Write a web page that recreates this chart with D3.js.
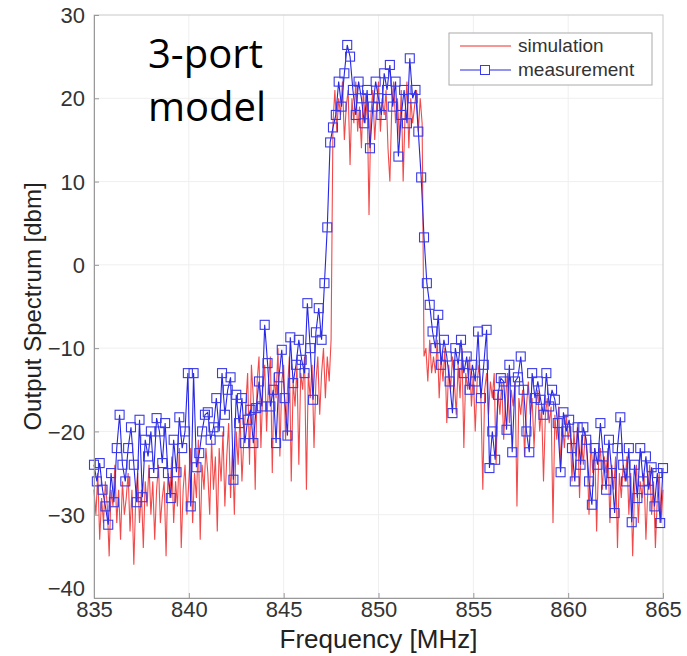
<!DOCTYPE html>
<html>
<head>
<meta charset="utf-8">
<script src="https://cdnjs.cloudflare.com/ajax/libs/d3/7.8.5/d3.min.js"></script>
<style>
    body { margin: 0; background: #fff; }
    text { font-family: "Liberation Sans", Arial, sans-serif; }
</style>
</head>
<body>
<div id="graph1"></div>
<script>

// frequency grid [MHz]
let fStart = 835,
    simStep = 0.1,
    measStep = 0.15;

let xTicks = [835, 840, 845, 850, 855, 860, 865];
let yTicks = [-40, -30, -20, -10, 0, 10, 20, 30];

// simulated output spectrum [dBm], one value every 0.1 MHz from 835
let simulation = [
    -27, -30, -25, -33, -28, -31, -26, -29, -35, -27,
    -29, -24, -31, -27, -33, -26, -30, -28, -25, -32,
    -27, -36, -28, -25, -31, -27, -34, -26, -29, -24,
    -30, -26, -33, -27, -24, -31, -28, -26, -35, -25,
    -28, -23, -31, -26, -29, -22, -34, -27, -24, -30,
    -26, -22, -31, -25, -28, -21, -33, -24, -27, -22,
    -25, -30, -21, -27, -23, -32, -22, -26, -20, -29,
    -23, -19, -28, -22, -30, -20, -24, -18, -26, -21,
    -17, -13, -24, -12, -16, -27, -14, -11, -22, -15,
    -12, -20, -14, -11, -25, -13, -16, -10, -23, -14,
    -12, -21, -15, -11, -26, -14, -17, -12, -24, -13,
    -15, -11, -27, -13, -16, -12, -22, -14, -11, -18,
    -13, -10, -16, -11, -14, -9, 17, 21, 16, 20,
    18, 22, 15, 19, 21, 12, 20, 17, 22, 16,
    19, 14, 21, 17, 20, 6, 18, 21, 15, 19,
    22, 16, 20, 18, 21, 14, 10, 19, 22, 17,
    20, 15, 21, 10, 18, 22, 14, 20, 17, 19,
    21, 16, 20, 17, -11, -10, -14, -9, -13, -11,
    -13, -9, -16, -11, -14, -10, -19, -12, -15, -11,
    -14, -18, -12, -16, -10, -22, -13, -15, -11, -17,
    -13, -20, -14, -12, -16, -27, -15, -13, -18, -14,
    -16, -13, -24, -15, -18, -14, -21, -16, -13, -19,
    -15, -17, -14, -29, -16, -18, -15, -23, -17, -14,
    -18, -16, -22, -17, -15, -20, -17, -26, -18, -16,
    -19, -17, -31, -18, -21, -17, -24, -19, -22, -18,
    -21, -19, -26, -20, -23, -19, -28, -21, -24, -20,
    -23, -30, -21, -25, -22, -32, -24, -22, -27, -23,
    -25, -22, -31, -24, -27, -23, -34, -25, -28, -24,
    -26, -23, -30, -25, -35, -27, -24, -31, -26, -28,
    -25, -33, -27, -24, -30, -26, -34, -28, -25, -31,
    -27
];

// measured output spectrum [dBm], one value every 0.15 MHz from 835
let measurement = [
    -24, -26, -23.8, -27, -29, -31.2, -25, -28.5, -22, -18,
    -24, -26, -22, -19.5, -24, -28.5, -18.6, -27.9, -21, -23,
    -20, -25, -18.4, -20, -23.8, -19, -25, -28, -21, -24.9,
    -18.3, -22, -20, -13, -29, -13, -24.3, -22.6, -20, -18,
    -17.7, -21, -19.5, -16, -20, -13, -18, -15, -13.5, -25.8,
    -15.6, -19, -16, -21.4, -18.6, -17.4, -21.4, -17.2, -14, -17,
    -7.2, -11.8, -17, -15, -21.4, -13.5, -10.2, -16, -20.5, -8.7,
    -14.2, -12, -9, -11.4, -13, -4.6, -10, -16.2, -8.1, -5.2,
    -9, -2.2, 4.5, 14.7, 16.5, 18, 22, 19, 23, 26.4,
    25, 21, 18, 22, 20, 17, 21, 14, 19, 22,
    20, 18, 23, 21, 24, 19, 22, 13, 18, 21,
    17, 24.8, 20, 21, 16, 10.5, 3.3, -2.2, -4.8, -8,
    -10, -6, -12, -9, -11, -14, -17.8, -10, -12, -9,
    -13, -11, -15, -12, -14, -8, -16, -12, -7.8, -24.4,
    -20, -23.4, -15.6, -13.6, -14, -19.8, -12, -22.5, -14, -13.5,
    -11, -15, -20, -22.5, -13, -16, -14, -16.2, -18, -13,
    -17, -15, -16.2, -19, -24.9, -17.7, -20, -18.6, -22, -26,
    -19.5, -24, -19.5, -21, -26, -28.8, -22, -24, -19, -23,
    -27, -21, -25, -29.8, -22, -18.3, -24, -26, -22, -30.9,
    -24, -28, -22, -26, -23, -27, -24.3, -29, -25, -31,
    -24.4
];

let width = 687,
    height = 656;

let margin = { top: 15, right: 24, bottom: 58, left: 94 };

let svg = d3.select("#graph1")
    .append("svg")
    .attr("width", width)
    .attr("height", height)
    .append("g")
    .attr("transform", `translate(${margin.left}, ${margin.top})`);

let plotW = width - margin.left - margin.right,
    plotH = height - margin.top - margin.bottom;

let x = d3.scaleLinear()
    .domain([835, 865])
    .range([0, plotW]);

let y = d3.scaleLinear()
    .domain([-40, 30])
    .range([plotH, 0]);

// light grid
svg.append("g")
    .selectAll("line")
    .data(xTicks.slice(1, -1))
    .enter()
    .append("line")
    .attr("x1", d => x(d)).attr("x2", d => x(d))
    .attr("y1", 0).attr("y2", plotH)
    .attr("stroke", "#efefef");

svg.append("g")
    .selectAll("line")
    .data(yTicks.slice(1, -1))
    .enter()
    .append("line")
    .attr("x1", 0).attr("x2", plotW)
    .attr("y1", d => y(d)).attr("y2", d => y(d))
    .attr("stroke", "#efefef");

// box
svg.append("rect")
    .attr("width", plotW)
    .attr("height", plotH)
    .attr("fill", "none")
    .attr("stroke", "#c8c8c8");

let simData = simulation.map((v, i) => ({ f: fStart + i * simStep, v: v }));
let measData = measurement.map((v, i) => ({ f: fStart + i * measStep, v: v }));

let line = d3.line()
    .x(d => x(d.f))
    .y(d => y(d.v));

svg.append("path")
    .datum(simData)
    .attr("fill", "none")
    .attr("stroke", "#f02a2a")
    .attr("stroke-opacity", 0.85)
    .attr("stroke-width", 1.1)
    .attr("d", line);

svg.append("path")
    .datum(measData)
    .attr("fill", "none")
    .attr("stroke", "#2626e6")
    .attr("stroke-width", 1.1)
    .attr("d", line);

let ms = 9;
svg.append("g")
    .selectAll("rect")
    .data(measData)
    .enter()
    .append("rect")
    .attr("x", d => x(d.f) - ms / 2)
    .attr("y", d => y(d.v) - ms / 2)
    .attr("width", ms)
    .attr("height", ms)
    .attr("fill", "none")
    .attr("stroke", "#3a3ae8")
    .attr("stroke-width", 1.1);

// axes
let xAxis = svg.append("g")
    .attr("transform", `translate(0, ${plotH})`)
    .call(d3.axisBottom(x).tickValues(xTicks).tickSize(-5).tickPadding(4).tickFormat(d3.format("d")));

let yAxis = svg.append("g")
    .call(d3.axisLeft(y).tickValues(yTicks).tickSize(-5).tickPadding(9).tickFormat(d3.format("d")));

[xAxis, yAxis].forEach(function (a) {
    a.select(".domain").attr("stroke", "#999");
    a.selectAll(".tick line").attr("stroke", "#999");
    a.selectAll("text")
        .style("font-family", "'Liberation Sans', Arial, sans-serif")
        .style("font-size", "22px")
        .attr("fill", "#333");
});

xAxis.selectAll("text").attr("dy", "0.7em");
// the bottom label sits a little higher so it clears the 835 below it
yAxis.selectAll("text").attr("dy", d => d === -40 ? "-0.1em" : "0.35em");

// axis labels
svg.append("text")
    .attr("transform", `translate(${plotW / 2}, ${plotH + 50})`)
    .style("text-anchor", "middle")
    .style("font-size", "26px")
    .attr("fill", "#222")
    .text("Frequency [MHz]");

svg.append("text")
    .attr("transform", `translate(${-margin.left + 41}, ${plotH / 2}) rotate(-90)`)
    .style("text-anchor", "middle")
    .style("font-size", "24px")
    .attr("fill", "#222")
    .text("Output Spectrum [dbm]");

// annotation
let note = svg.append("text")
    .style("font-family", "'Open Sans', sans-serif")
    .style("font-size", "40px")
    .attr("fill", "#000");
note.append("tspan").attr("x", 54).attr("y", 53).text("3-port");
note.append("tspan").attr("x", 54).attr("y", 106).text("model");

// legend
let legend = svg.append("g")
    .attr("transform", `translate(${449 - margin.left}, ${33 - margin.top})`);

legend.append("rect")
    .attr("width", 203)
    .attr("height", 52)
    .attr("fill", "#fff")
    .attr("stroke", "#aaa");

legend.append("line")
    .attr("x1", 11).attr("x2", 62)
    .attr("y1", 13).attr("y2", 13)
    .attr("stroke", "#f02a2a");

legend.append("line")
    .attr("x1", 11).attr("x2", 62)
    .attr("y1", 37).attr("y2", 37)
    .attr("stroke", "#2626e6");

legend.append("rect")
    .attr("x", 36 - ms / 2).attr("y", 37 - ms / 2)
    .attr("width", ms).attr("height", ms)
    .attr("fill", "#fff")
    .attr("stroke", "#3a3ae8");

legend.append("text")
    .attr("x", 69).attr("y", 19)
    .style("font-size", "19px")
    .attr("fill", "#333")
    .text("simulation");

legend.append("text")
    .attr("x", 69).attr("y", 43)
    .style("font-size", "19px")
    .attr("fill", "#333")
    .text("measurement");

</script>
</body>
</html>
